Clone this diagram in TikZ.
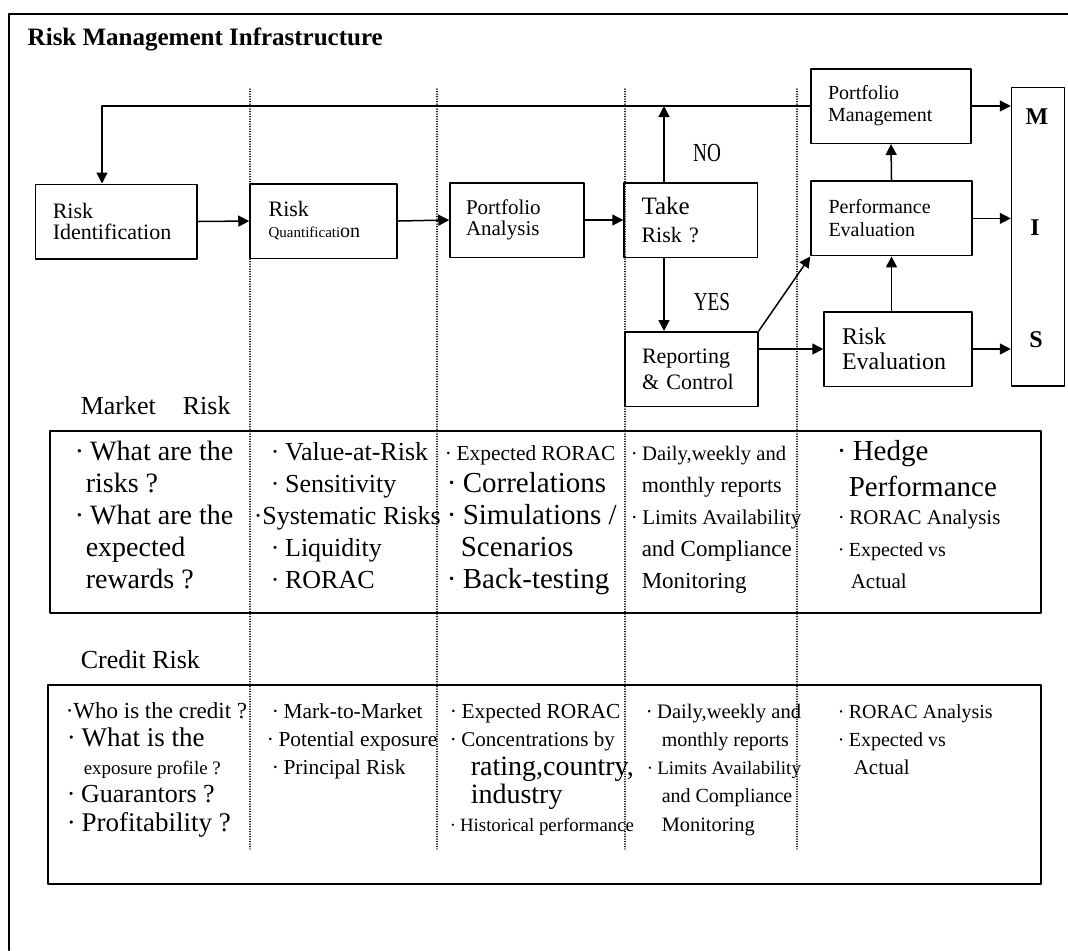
\documentclass[tikz,border=0pt]{standalone}
\usepackage{fontspec}
\setmainfont{Liberation Serif}
\usetikzlibrary{arrows.meta}
\newcommand\fs[2]{\fontsize{#1}{#2}\selectfont}
\newcommand\dotb{·\hspace{.22em}}
\tikzset{
  blk/.style={draw, line width=0.75pt, minimum height=37.25pt, inner ysep=0pt, align=left},
  txt/.style={anchor=base west, inner sep=0pt},
  guide/.style={line width=0.6pt, dash pattern=on 0.1pt off 1.15pt},
}
\begin{document}
\begin{tikzpicture}[line cap=round,line join=round,line width=0.75pt,>={Triangle[length=5.5pt,width=5.5pt]},x=0.5pt,y=-0.5pt]
\useasboundingbox (0,0) rectangle (1068,950);
\draw[line width=1pt] (1068,14) -- (9,14) -- (9,950);
\node[txt,font=\bfseries\fs{12.5}{14}] (title) at (27,45) {Risk Management Infrastructure};
\foreach \x in {250,437,625,797}
\draw[guide] (\x,89) -- (\x,849);
\node[blk,text width=63.25pt,inner xsep=8.75pt,font=\fs{11}{10.5}] (ident) at (116,221.5) {Risk\\Identification};
\node[blk,text width=54.9pt,inner xsep=9.3pt,font=\fs{11}{10.5}] (quant) at (323.5,221) {Risk\\{\fs{7.5}{10.5}Quantificati}{\fs{10}{10.5}on}};
\node[blk,text width=51pt,inner xsep=8pt,font=\fs{10.5}{10.5}] (analysis) at (517,220) {Portfolio\\Analysis};
\node[blk,text width=49.25pt,inner xsep=8.75pt,font=\fs{11}{14}] (take) at (690.75,220) {{\fs{12.5}{14}Take}\\Risk ?};
\node[blk,text width=49.5pt,inner xsep=8.5pt,font=\fs{11}{13}] (report) at (691.5,369) {Reporting\\\& Control};
\node[blk,text width=56pt,inner xsep=9pt,font=\fs{12}{12.7}] (riskeval) at (898,349) {Risk\\Evaluation};
\node[blk,text width=63pt,inner xsep=8.75pt,font=\fs{10}{11.5}] (perfeval) at (891.5,218.4) {Performance\\Evaluation};
\node[blk,text width=63pt,inner xsep=8.5pt,font=\fs{10}{11}] (portmgmt) at (891,106) {Portfolio\\Management};
\node[draw,line width=0.75pt,minimum width=26.5pt,minimum height=149.25pt,inner sep=0pt] (mis) at (1038,236.75) {};
\node[font=\bfseries\fs{12}{12}] (misM) at (1037,116.7) {M};
\node[font=\bfseries\fs{12}{12}] (misI) at (1035,228) {I};
\node[font=\bfseries\fs{12}{12}] (misS) at (1036,340) {S};
\node[font=\fs{13}{13}] (nolbl) at (707,152.7) {\scalebox{0.74}[1]{NO}};
\node[font=\fs{13}{13}] (yeslbl) at (712,302) {\scalebox{0.74}[1]{YES}};
\coordinate (fbx) at (102,0);
\coordinate (ynx) at (664,0);
\draw[->] (portmgmt.west) -| (ident.north -| fbx);
\draw[->] (ident.east) -- (quant.west);
\draw[->] (quant.east) -- (analysis.west);
\draw[->] (analysis.east) -- (take.west);
\draw[->] (take.north -| ynx) -- (ynx |- portmgmt.west);
\draw[->] (take.south -| ynx) -- (report.north -| ynx);
\draw[->] (report.east |- riskeval.west) -- (riskeval.west);
\draw[->] (report.north east) -- (perfeval.south west);
\draw[->] (riskeval.north -| perfeval.south) -- (perfeval.south);
\draw[->] (perfeval.north) -- (portmgmt.south);
\draw[->] (portmgmt.east) -- (portmgmt.east -| mis.west);
\draw[->] (perfeval.east) -- (perfeval.east -| mis.west);
\draw[->] (riskeval.east) -- (riskeval.east -| mis.west);
\node[txt,font=\fs{13}{15}] (mktlbl) at (80,414) {Market\hspace{13.5pt}Risk};
\draw (50,431) rectangle (1041,613);
\node[txt,font=\fs{14}{16}] (mk11) at (74,460) {\dotb What are the};
\node[txt,font=\fs{14}{16}] (mk12) at (85,492) {risks ?};
\node[txt,font=\fs{14}{16}] (mk13) at (74,524) {\dotb What are the};
\node[txt,font=\fs{14}{16}] (mk14) at (85,556) {expected};
\node[txt,font=\fs{14}{16}] (mk15) at (85,588) {rewards ?};
\node[txt,font=\fs{13}{15}] (mk21) at (270,460) {\dotb Value-at-Risk};
\node[txt,font=\fs{13}{15}] (mk22) at (270,492) {\dotb Sensitivity};
\node[txt,font=\fs{13}{15}] (mk23) at (253,524) {·Systematic Risks};
\node[txt,font=\fs{13}{15}] (mk24) at (270,556) {\dotb Liquidity};
\node[txt,font=\fs{13}{15}] (mk25) at (270,588) {\dotb RORAC};
\node[txt,font=\fs{10.7}{12}] (mk31) at (444,460) {\dotb Expected RORAC};
\node[txt,font=\fs{14.5}{16}] (mk32) at (446,492) {\dotb Correlations};
\node[txt,font=\fs{14.5}{16}] (mk33) at (446,524) {\dotb Simulations /};
\node[txt,font=\fs{14.5}{16}] (mk34) at (460,556) {Scenarios};
\node[txt,font=\fs{14.5}{16}] (mk35) at (446,588) {\dotb Back-testing};
\node[txt,font=\fs{10.3}{12}] (mk41) at (630,460) {\dotb Daily,weekly and};
\node[txt,font=\fs{11}{12}] (mk42) at (641,492) {monthly reports};
\node[txt,font=\fs{10.5}{12}] (mk43) at (630,524) {\dotb Limits Availability};
\node[txt,font=\fs{11.5}{12}] (mk44) at (641,556) {and Compliance};
\node[txt,font=\fs{11.5}{12}] (mk45) at (641,588) {Monitoring};
\node[txt,font=\fs{14.5}{16}] (mk51) at (836,460) {\dotb Hedge};
\node[txt,font=\fs{14.5}{16}] (mk52) at (848,496) {Performance};
\node[txt,font=\fs{10.5}{12}] (mk53) at (837,524) {\dotb RORAC Analysis};
\node[txt,font=\fs{10}{12}] (mk54) at (837,556) {\dotb Expected vs};
\node[txt,font=\fs{10.5}{12}] (mk55) at (850,588) {Actual};
\node[txt,font=\fs{13}{15}] (crlbl) at (80,668) {Credit Risk};
\draw (48,685) rectangle (1041,884);
\node[txt,font=\fs{11.5}{13}] (cr11) at (65,718) {·Who is the credit ?};
\node[txt,font=\fs{13.5}{15}] (cr12) at (66,746) {\dotb What is the};
\node[txt,font=\fs{9.5}{11}] (cr13) at (83,774) {exposure profile ?};
\node[txt,font=\fs{13}{15}] (cr14) at (66,802) {\dotb Guarantors ?};
\node[txt,font=\fs{13.5}{15}] (cr15) at (66,831) {\dotb Profitability ?};
\node[txt,font=\fs{10.7}{12}] (cr21) at (271,718) {\dotb Mark-to-Market};
\node[txt,font=\fs{10.7}{12}] (cr22) at (266,746) {\dotb Potential exposure};
\node[txt,font=\fs{10.7}{12}] (cr23) at (271,774) {\dotb Principal Risk};
\node[txt,font=\fs{10.7}{12}] (cr31) at (449,718) {\dotb Expected RORAC};
\node[txt,font=\fs{10.5}{12}] (cr32) at (449,746) {\dotb Concentrations by};
\node[txt,font=\fs{14}{16}] (cr33) at (470,775) {rating,country,};
\node[txt,font=\fs{14}{16}] (cr34) at (470,803) {industry};
\node[txt,font=\fs{9.4}{11}] (cr35) at (449,831) {\dotb Historical performance};
\node[txt,font=\fs{10.3}{12}] (cr41) at (645,718) {\dotb Daily,weekly and};
\node[txt,font=\fs{10}{12}] (cr42) at (661,746) {monthly reports};
\node[txt,font=\fs{9.5}{11}] (cr43) at (646,774) {\dotb Limits Availability};
\node[txt,font=\fs{10}{12}] (cr44) at (661,802) {and Compliance};
\node[txt,font=\fs{10.2}{12}] (cr45) at (661,831) {Monitoring};
\node[txt,font=\fs{10}{12}] (cr51) at (837,718) {\dotb RORAC Analysis};
\node[txt,font=\fs{10}{12}] (cr52) at (837,746) {\dotb Expected vs};
\node[txt,font=\fs{10.5}{12}] (cr53) at (853,774) {Actual};
\end{tikzpicture}
\end{document}
